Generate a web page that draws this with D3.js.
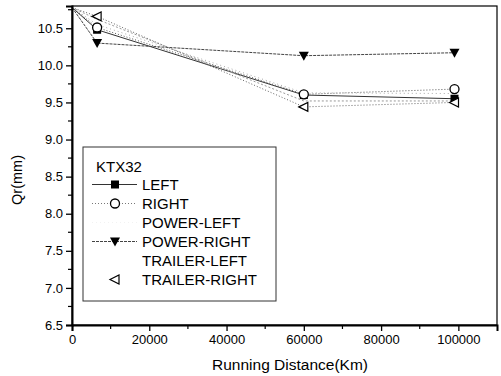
<!DOCTYPE html>
<html><head><meta charset="utf-8">
<script src="https://cdn.jsdelivr.net/npm/d3@7"></script>
<style>body{margin:0;background:#fff;} text{font-family:"Liberation Sans",Arial,sans-serif;fill:#000;}</style>
</head><body><svg id="c" width="501" height="376"></svg>
<script>
const distance = [0, 6500, 60000, 99000];
const seriesNames = ["LEFT","RIGHT","POWER-LEFT","POWER-RIGHT","TRAILER-LEFT","TRAILER-RIGHT"];
const leftVals = [10.78, 10.48, 9.60, 9.55];
const rightVals = [10.78, 10.51, 9.61, 9.68];
const powerLeftVals = [10.78, 10.55, 9.63, 9.62];
const powerRightVals = [10.78, 10.30, 10.13, 10.17];
const trailerLeftVals = [10.78, 10.62, 9.52, 9.52];
const trailerRightVals = [10.78, 10.66, 9.44, 9.50];
const xTicks = [0, 20000, 40000, 60000, 80000, 100000];
const yTicks = [6.5, 7.0, 7.5, 8.0, 8.5, 9.0, 9.5, 10.0, 10.5];
const legendTitle = "KTX32";

const svg = d3.select("#c");
const x = d3.scaleLinear().domain([0, 110000]).range([72, 497]);
const y = d3.scaleLinear().domain([6.5, 10.8]).range([325, 6]);

const series = [
  {name:"LEFT", vals:leftVals, dash:null, color:"#333", w:1, marker:"square", leg:1},
  {name:"RIGHT", vals:rightVals, dash:"1,2", color:"#555", w:1, marker:"circle", leg:0.8},
  {name:"POWER-LEFT", vals:powerLeftVals, dash:"1,3", color:"#aaa", w:1, marker:null, leg:0.15},
  {name:"POWER-RIGHT", vals:powerRightVals, dash:"3,1", color:"#444", w:1, marker:"down", leg:1},
  {name:"TRAILER-LEFT", vals:trailerLeftVals, dash:"2,2", color:"#999", w:1, marker:null, leg:0},
  {name:"TRAILER-RIGHT", vals:trailerRightVals, dash:"1,2", color:"#666", w:1, marker:"left", leg:0}
];

// frame
svg.append("rect").attr("x",72).attr("y",6).attr("width",425).attr("height",319)
  .attr("fill","none").attr("stroke","#000").attr("stroke-width",1.2);

// lines
const line = d3.line().x((d,i)=>x(distance[i])).y(d=>y(d));
series.forEach(s=>{
  svg.append("path").attr("d", line(s.vals)).attr("fill","none")
    .attr("stroke", s.color).attr("stroke-width", s.w)
    .attr("stroke-dasharray", s.dash);
});

function drawMarker(g, type, cx, cy){
  if(type==="square") g.append("rect").attr("x",cx-4).attr("y",cy-4).attr("width",8).attr("height",8).attr("fill","#000");
  else if(type==="circle") g.append("circle").attr("cx",cx).attr("cy",cy).attr("r",4.5).attr("fill","#fff").attr("stroke","#000").attr("stroke-width",1.3);
  else if(type==="down") g.append("path").attr("d",`M${cx-5},${cy-4}L${cx+5},${cy-4}L${cx},${cy+5}Z`).attr("fill","#000");
  else if(type==="left") g.append("path").attr("d",`M${cx-5},${cy}L${cx+4},${cy-4.5}L${cx+4},${cy+4.5}Z`).attr("fill","#fff").attr("stroke","#000").attr("stroke-width",1.2);
}
series.forEach(s=>{
  if(!s.marker) return;
  s.vals.forEach((v,i)=>{ if(i>0) drawMarker(svg, s.marker, x(distance[i]), y(v)); });
});

// axes
const xAxis = svg.append("g").attr("transform","translate(0,325)")
  .call(d3.axisBottom(x).tickValues(xTicks).tickFormat(d3.format("d")).tickSize(6).tickPadding(4));
const yAxis = svg.append("g").attr("transform","translate(72,0)")
  .call(d3.axisLeft(y).tickValues(yTicks).tickFormat(d3.format(".1f")).tickSize(6).tickPadding(3));
[xAxis,yAxis].forEach(a=>{
  a.select(".domain").attr("stroke","#000").attr("stroke-width",2);
  a.selectAll(".tick line").attr("stroke","#000").attr("stroke-width",1.3);
  a.selectAll("text").attr("font-size",13).attr("font-family","Liberation Sans, Arial, sans-serif");
});
// minor ticks
const xMinor = d3.range(10000, 110000, 20000);
svg.append("g").selectAll("line").data(xMinor).join("line")
  .attr("x1",d=>x(d)).attr("x2",d=>x(d)).attr("y1",325).attr("y2",329).attr("stroke","#000").attr("stroke-width",1.2);
const yMinor = d3.range(6.75, 10.8, 0.5);
svg.append("g").selectAll("line").data(yMinor).join("line")
  .attr("x1",68).attr("x2",72).attr("y1",d=>y(d)).attr("y2",d=>y(d)).attr("stroke","#000").attr("stroke-width",1.2);

// axis titles
svg.append("text").attr("x",290).attr("y",370).attr("text-anchor","middle").attr("font-size",15.5).text("Running Distance(Km)");
svg.append("text").attr("transform","translate(22,180) rotate(-90)").attr("text-anchor","middle").attr("font-size",14.5).text("Qr(mm)");

// legend
const lg = svg.append("g");
lg.append("rect").attr("x",83).attr("y",147).attr("width",193).attr("height",154)
  .attr("fill","#fff").attr("stroke","#333").attr("stroke-width",1);
lg.append("text").attr("x",96).attr("y",172).attr("font-size",15).text(legendTitle);
series.forEach((s,i)=>{
  const cy = 184.5 + i*19;
  lg.append("line").attr("x1",92).attr("x2",137).attr("y1",cy).attr("y2",cy)
    .attr("stroke", s.color).attr("stroke-width", s.w).attr("stroke-dasharray", s.dash)
    .attr("stroke-opacity", s.leg);
  if(s.marker) drawMarker(lg, s.marker, 115, cy);
  lg.append("text").attr("x",142).attr("y",cy+5.5).attr("font-size",15).text(s.name);
});
</script></body></html>
